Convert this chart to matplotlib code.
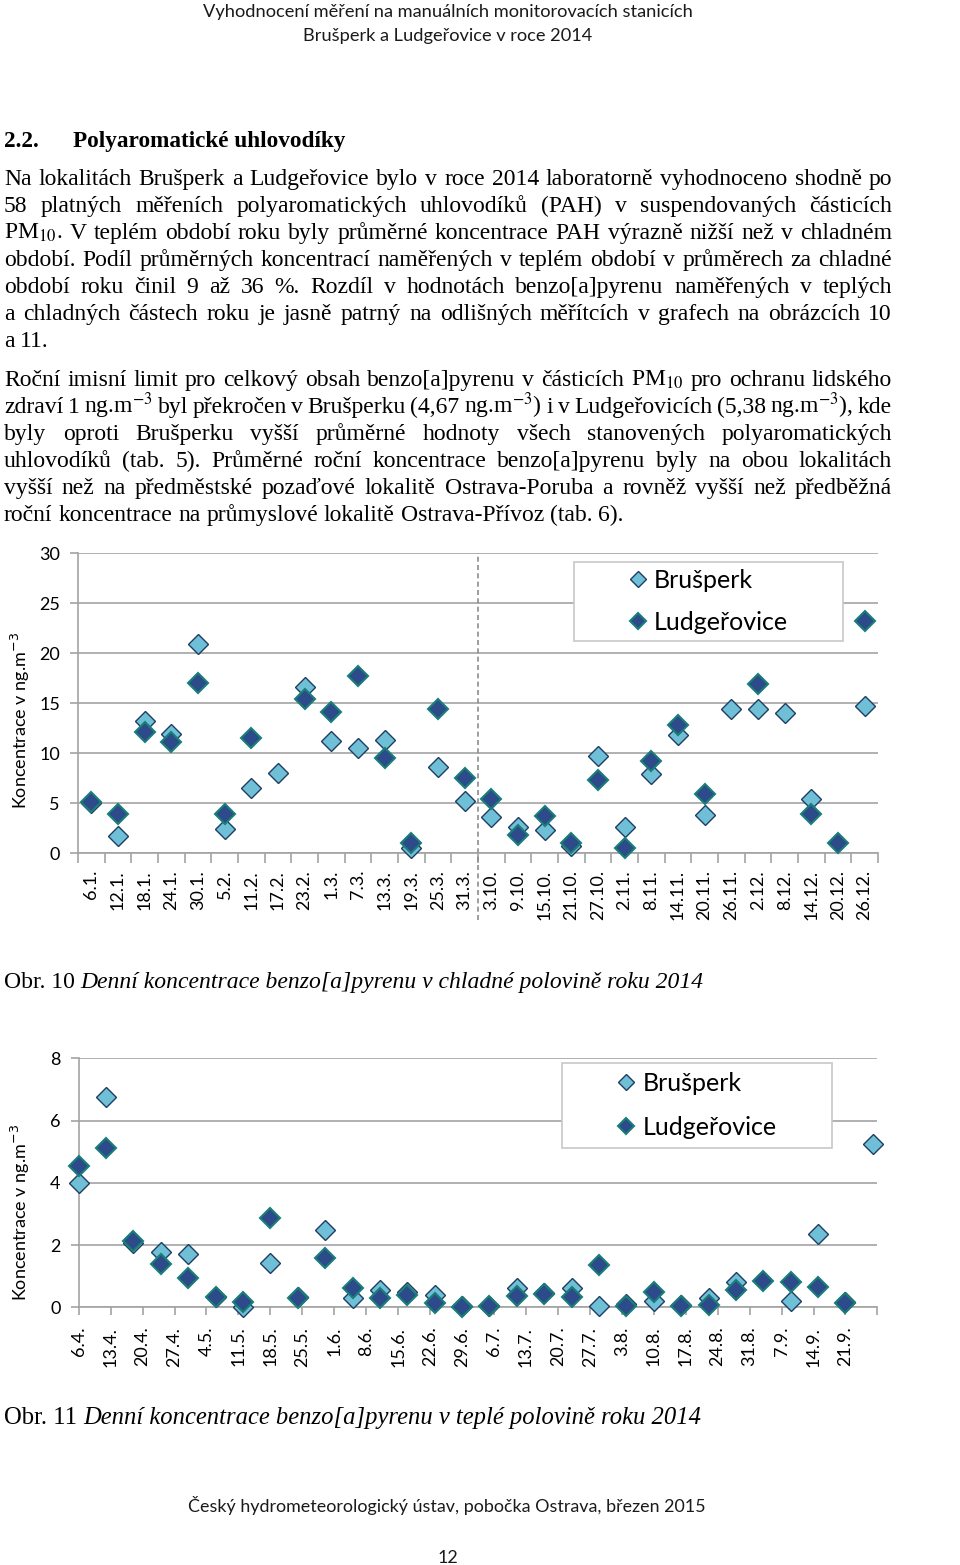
import matplotlib
matplotlib.use('Agg')
import matplotlib.pyplot as plt
import matplotlib.dates as mdates
from matplotlib.patches import Rectangle
import numpy as np
import datetime as dt

nan = np.nan

### data: cold half of the year (categories)
cold_labels = ['6.1.', '12.1.', '18.1.', '24.1.', '30.1.', '5.2.', '11.2.', '17.2.', '23.2.', '1.3.',
               '7.3.', '13.3.', '19.3.', '25.3.', '31.3.', '3.10.', '9.10.', '15.10.', '21.10.', '27.10.',
               '2.11.', '8.11.', '14.11.', '20.11.', '26.11.', '2.12.', '8.12.', '14.12.', '20.12.', '26.12.']
cold_brusperk = [5.0, 1.7, 13.2, 11.9, 20.9, 2.4, 6.5, 8.0, 16.6, 11.2,
                 10.5, 11.3, 0.5, 8.6, 5.2, 3.6, 2.6, 2.3, 0.7, 9.7,
                 2.6, 7.9, 11.8, 3.8, 14.4, 14.4, 14.0, 5.4, nan, 14.7]
cold_ludgerovice = [5.1, 3.9, 12.1, 11.1, 17.0, 3.9, 11.5, nan, 15.4, 14.1,
                    17.7, 9.5, 1.0, 14.4, 7.5, 5.4, 1.8, 3.7, 1.0, 7.3,
                    0.5, 9.2, 12.8, 5.9, nan, 16.9, nan, 3.9, 1.0, 23.2]

### data: warm half of the year (dates)
warm_dates = ['6.4.', '12.4.', '18.4.', '24.4.', '30.4.', '6.5.', '12.5.', '18.5.', '24.5.', '30.5.',
              '5.6.', '11.6.', '17.6.', '23.6.', '29.6.', '5.7.', '11.7.', '17.7.', '23.7.', '29.7.',
              '4.8.', '10.8.', '16.8.', '22.8.', '28.8.', '3.9.', '9.9.', '15.9.', '21.9.', '27.9.']
warm_brusperk = [3.98, 6.77, 2.06, 1.77, 1.72, 0.32, 0.02, 1.43, 0.34, 2.48,
                 0.31, 0.56, 0.50, 0.40, 0.05, 0.04, 0.63, 0.47, 0.61, 0.05,
                 0.10, 0.20, 0.07, 0.29, 0.82, nan, 0.21, 2.36, 0.18, 5.25]
warm_ludgerovice = [4.54, 5.11, 2.13, 1.38, 0.93, 0.34, 0.18, 2.86, 0.29, 1.57,
                    0.63, 0.29, 0.40, 0.13, 0.02, 0.04, 0.36, 0.43, 0.34, 1.36,
                    0.05, 0.48, 0.05, 0.07, 0.56, 0.86, 0.80, 0.66, 0.13, nan]
warm_tick_start = '6.4.'
warm_tick_end = '28.9.'

### page text
header = ['Vyhodnocení měření na manuálních monitorovacích stanicích',
          'Brušperk a Ludgeřovice v roce 2014']
para1 = ['Na lokalitách Brušperk a Ludgeřovice bylo v roce 2014 laboratorně vyhodnoceno shodně po',
         '58 platných měřeních polyaromatických uhlovodíků (PAH) v suspendovaných částicích',
         'PM$_{10}$. V teplém období roku byly průměrné koncentrace PAH výrazně nižší než v chladném',
         'období. Podíl průměrných koncentrací naměřených v teplém období v průměrech za chladné',
         'období roku činil 9 až 36 %. Rozdíl v hodnotách benzo[a]pyrenu naměřených v teplých',
         'a chladných částech roku je jasně patrný na odlišných měřítcích v grafech na obrázcích 10',
         'a 11.']
para2 = ['Roční imisní limit pro celkový obsah benzo[a]pyrenu v částicích PM$_{10}$ pro ochranu lidského',
         'zdraví 1 ng.m$^{-3}$ byl překročen v Brušperku (4,67 ng.m$^{-3}$) i v Ludgeřovicích (5,38 ng.m$^{-3}$), kde',
         'byly oproti Brušperku vyšší průměrné hodnoty všech stanovených polyaromatických',
         'uhlovodíků (tab. 5). Průměrné roční koncentrace benzo[a]pyrenu byly na obou lokalitách',
         'vyšší než na předměstské pozaďové lokalitě Ostrava-Poruba a rovněž vyšší než předběžná',
         'roční koncentrace na průmyslové lokalitě Ostrava-Přívoz (tab. 6).']
footer = 'Český hydrometeorologický ústav, pobočka Ostrava, březen 2015'

W, H = 960, 1565
SERIF = 'Liberation Serif'
SANS = ['Lato', 'DejaVu Sans']
BRU_FACE, BRU_EDGE = '#6fc0d6', '#1f3d63'
LUD_FACE, LUD_EDGE = '#2d4a8a', '#1a7e78'
GRID = '#a3a3a3'

plt.rcParams['font.family'] = SANS

fig = plt.figure(figsize=(W / 100, H / 100), dpi=100)
fig.patch.set_facecolor('white')
r = fig.canvas.get_renderer()


def fy(y):
    return 1 - y / H


def width_of(s, size, **kw):
    t = fig.text(0, 0, s, fontsize=size, **kw)
    w = t.get_window_extent(r).width
    t.remove()
    return w


def fit(s, target, **kw):
    return 10 * target / width_of(s, 10, **kw)


def justify(line, base, size, x0=4, x1=892, last=False):
    words = line.split(' ')
    objs = [fig.text(0, fy(base), w, fontsize=size, family=SERIF, va='baseline',
                     math_fontfamily='stix') for w in words]
    widths = [o.get_window_extent(r).width for o in objs]
    if last or len(words) == 1:
        gap = width_of('a a', size, family=SERIF) - width_of('aa', size, family=SERIF)
    else:
        gap = (x1 - x0 - sum(widths)) / (len(words) - 1)
    x = x0
    for o, w in zip(objs, widths):
        o.set_x(x / W)
        x += w + gap


# header
hs = fit(header[0], 489, family=SANS)
fig.text(447.5 / W, fy(17), header[0], fontsize=hs, ha='center', va='baseline', color='#1a1a1a')
fig.text(447.5 / W, fy(41), header[1], fontsize=hs, ha='center', va='baseline', color='#1a1a1a')

# heading
hds = fit('Polyaromatické uhlovodíky', 274, family=SERIF, weight='bold')
fig.text(4 / W, fy(147), '2.2.', fontsize=hds, family=SERIF, weight='bold', va='baseline')
fig.text(73 / W, fy(147), 'Polyaromatické uhlovodíky', fontsize=hds, family=SERIF, weight='bold', va='baseline')

# body
bs = fit(para2[-1], 622, family=SERIF)
for i, line in enumerate(para1):
    justify(line, 185 + 27 * i, bs, last=(i == len(para1) - 1))
for i, line in enumerate(para2):
    justify(line, 386 + 27 * i, bs, last=(i == len(para2) - 1))


def caption(num, rest, base):
    a = 'Obr. %s ' % num
    wa = width_of(a, 10, family=SERIF)
    wb = width_of(rest, 10, family=SERIF, style='italic')
    cs = 10 * 698 / (wa + wb)
    fig.text(4 / W, fy(base), a, fontsize=cs, family=SERIF, va='baseline')
    fig.text((4 + wa * cs / 10) / W, fy(base), rest, fontsize=cs, family=SERIF,
             style='italic', va='baseline')


caption('10', 'Denní koncentrace benzo[a]pyrenu v chladné polovině roku 2014', 988)
caption('11', 'Denní koncentrace benzo[a]pyrenu v teplé polovině roku 2014', 1424)

fs_foot = fit(footer, 518, family=SANS)
fig.text(447 / W, fy(1512), footer, fontsize=fs_foot, ha='center', va='baseline', color='#1a1a1a')
fig.text(448 / W, fy(1563), '12', fontsize=fs_foot, ha='center', va='baseline', color='#1a1a1a')


def style_axes(ax, yticks):
    ax.set_yticks(yticks)
    ax.yaxis.grid(True, color=GRID, lw=1.2)
    ax.set_axisbelow(True)
    for s in ['top', 'right']:
        ax.spines[s].set_visible(False)
    for s in ['left', 'bottom']:
        ax.spines[s].set_color(GRID)
        ax.spines[s].set_linewidth(1.2)
    ax.tick_params(axis='y', length=6, width=1.2, color=GRID, labelsize=13, pad=7)
    ax.tick_params(axis='x', labelsize=13, colors='black')
    ax.tick_params(axis='x', color=GRID)


def points(ax, x, bru, lud):
    ax.plot(x, bru, ls='none', marker='D', ms=10.5, mfc=BRU_FACE, mec=BRU_EDGE, mew=1.0,
            label='Brušperk', clip_on=False, zorder=3)
    ax.plot(x, lud, ls='none', marker='D', ms=10.5, mfc=LUD_FACE, mec=LUD_EDGE, mew=1.5,
            label='Ludgeřovice', clip_on=False, zorder=4)


def legend_box(ax, x0, y0, x1, y1, spacing):
    ax.add_patch(Rectangle((x0 / W, fy(y1)), (x1 - x0) / W, (y1 - y0) / H, transform=fig.transFigure,
                           facecolor='white', edgecolor='#c8c8c8', lw=1.2, zorder=5, clip_on=False))
    leg = ax.legend(loc='center', bbox_to_anchor=((x0 + x1) / 2 / W, fy((y0 + y1) / 2)),
                    bbox_transform=fig.transFigure, frameon=False, fontsize=18,
                    markerscale=0.75, handlelength=0.7, handletextpad=0.3, labelspacing=spacing)
    leg.set_zorder(6)


def ylabel(yc):
    fig.text(20 / W, fy(yc), 'Koncentrace v ng.m$^{-3}$', rotation=90, ha='center', va='center',
             fontsize=13, math_fontfamily='dejavusans')


### Chart 1: cold half, categorical
ax1 = fig.add_axes([78 / W, fy(853.3), 800 / W, 300 / H])
x1 = np.arange(len(cold_labels))
points(ax1, x1, cold_brusperk, cold_ludgerovice)
ax1.set_xlim(-0.5, len(cold_labels) - 0.5)
ax1.set_ylim(0, 30)
style_axes(ax1, np.arange(0, 31, 5))
ax1.set_xticks(x1)
ax1.set_xticklabels(cold_labels, rotation=90, va='top')
ax1.set_xticks(np.arange(-0.5, len(cold_labels)), minor=True)
ax1.tick_params(axis='x', which='major', length=0, pad=12)
ax1.tick_params(axis='x', which='minor', length=7, width=1.2, color=GRID)
ax1.axvline(14.5, ymin=-0.222, ymax=1, clip_on=False, ls=(0, (3, 2)), color='#8c8c8c', lw=1.2)
legend_box(ax1, 574, 562, 843, 641, 0.75)
ylabel(720)

### Chart 2: warm half, date axis
to_date = lambda s: dt.date(2014, int(s.split('.')[1]), int(s.split('.')[0]))
xd = mdates.date2num([to_date(s) for s in warm_dates])
t0 = to_date(warm_tick_start)
t1 = to_date(warm_tick_end)
ticks = [t0 + dt.timedelta(days=7 * k) for k in range((t1 - t0).days // 7 + 1)]
ax2 = fig.add_axes([78.7 / W, fy(1307.3), 798.7 / W, 249 / H])
points(ax2, xd, warm_brusperk, warm_ludgerovice)
ax2.set_xlim(mdates.date2num(t0), mdates.date2num(t1))
ax2.set_ylim(0, 8)
style_axes(ax2, np.arange(0, 9, 2))
ax2.set_xticks(mdates.date2num(ticks))
ax2.set_xticklabels(['%d.%d.' % (d.day, d.month) if d != t1 else '' for d in ticks],
                    rotation=90, va='top')
ax2.tick_params(axis='x', length=6, width=1.2, color=GRID, pad=8)
legend_box(ax2, 562, 1063, 832, 1148, 0.85)
ylabel(1212)

fig.savefig('out.png', dpi=100)
